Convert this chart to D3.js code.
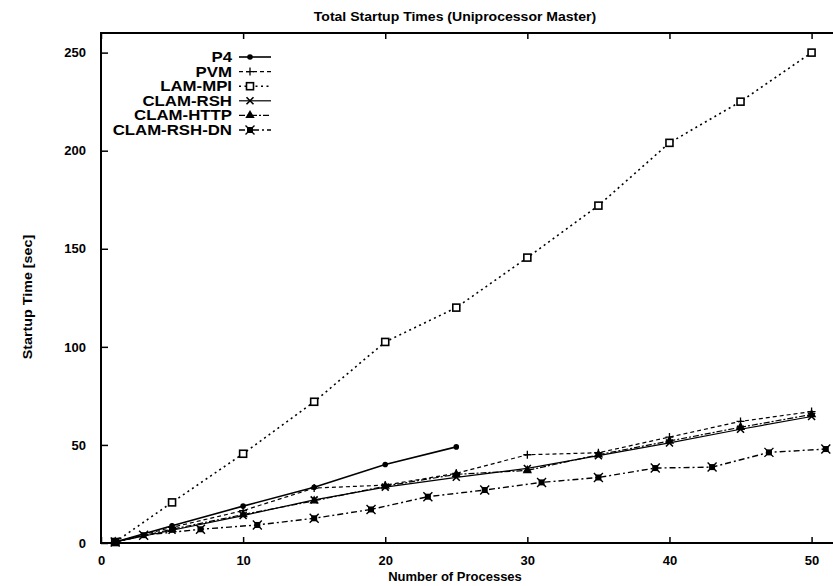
<!DOCTYPE html>
<html>
<head>
<meta charset="utf-8">
<script src="https://cdn.jsdelivr.net/npm/d3@7"></script>
<style>
  body { margin: 0; background: #fff; }
  text { font-family: "Liberation Sans", Arial, sans-serif; fill: #000; }
</style>
</head>
<body>
<div id="chart"></div>
<script>
// data
var procs = [1, 5, 10, 15, 20, 25, 30, 35, 40, 45, 50];
var p4Procs = [1, 5, 10, 15, 20, 25];
var dnProcs = [1, 3, 7, 11, 15, 19, 23, 27, 31, 35, 39, 43, 47, 51];

var p4 = [0.5, 8.8, 18.8, 28.4, 40, 49];
var pvm = [0.5, 8, 16.5, 28, 29.5, 35.5, 45, 46, 54, 62, 67];
var lamMpi = [0.5, 20.7, 45.5, 72, 102.5, 120, 145.5, 172, 204, 225, 250];
var clamRsh = [0.5, 6.5, 14, 22, 28.5, 33.5, 38, 44.5, 51, 58, 64.5];
var clamHttp = [0.5, 7, 14.5, 21.5, 29, 35, 37, 45, 52, 59, 65.5];
var clamRshDn = [0.5, 4, 7, 9.2, 12.6, 17.1, 23.6, 27, 30.9, 33.4, 38.2, 38.7, 46.2, 47.9];

var xTicks = [0, 10, 20, 30, 40, 50];
var yTicks = [0, 50, 100, 150, 200, 250];

var series = [
  {name: 'P4', xs: p4Procs, ys: p4, dash: null, width: 1.6, marker: 'dot'},
  {name: 'PVM', xs: procs, ys: pvm, dash: '4,3', width: 1.2, marker: 'plus'},
  {name: 'LAM-MPI', xs: procs, ys: lamMpi, dash: '2,3.5', width: 1.6, marker: 'square'},
  {name: 'CLAM-RSH', xs: procs, ys: clamRsh, dash: null, width: 1.2, marker: 'cross'},
  {name: 'CLAM-HTTP', xs: procs, ys: clamHttp, dash: '6,2,2,2', width: 1.2, marker: 'tri'},
  {name: 'CLAM-RSH-DN', xs: dnProcs, ys: clamRshDn, dash: '6,3,2,3', width: 1.4, marker: 'star'}
];

var margin = {top: 33, left: 101};
var width = 739, height = 510;

var svg = d3.select('#chart')
    .append('svg')
    .attr('width', 833)
    .attr('height', 586)

var graph = svg.append('g')
    .attr('transform', 'translate(' + margin.left + ', ' + margin.top + ')')

var xS = d3.scaleLinear().domain([0, 52]).range([0, width])
var yS = d3.scaleLinear().domain([0, 260]).range([height, 0])

// inward ticks on all sides, gnuplot style
graph.append('g')
    .attr('transform', 'translate(0, ' + height + ')')
    .call(d3.axisBottom(xS).tickValues(xTicks).tickSize(-6).tickPadding(13))
    .call(function (g) { g.select('.domain').remove() })
graph.append('g')
    .call(d3.axisTop(xS).tickValues(xTicks).tickSize(-6).tickFormat(''))
    .call(function (g) { g.select('.domain').remove() })
graph.append('g')
    .call(d3.axisLeft(yS).tickValues(yTicks).tickSize(-7).tickPadding(15))
    .call(function (g) { g.select('.domain').remove() })
graph.append('g')
    .attr('transform', 'translate(' + width + ', 0)')
    .call(d3.axisRight(yS).tickValues(yTicks).tickSize(-7).tickFormat(''))
    .call(function (g) { g.select('.domain').remove() })

graph.selectAll('.tick line').attr('stroke', '#000').attr('stroke-width', 1.5)
graph.selectAll('.tick text').style('font-size', '13px').style('font-weight', 'bold')

graph.append('rect')
    .attr('width', width).attr('height', height)
    .attr('fill', 'none').attr('stroke', '#000').attr('stroke-width', 2)

function drawMarker(sel, type) {
  if (type === 'dot') {
    sel.append('circle').attr('r', 2.8).attr('fill', '#000')
  } else if (type === 'plus') {
    sel.append('path').attr('d', 'M-4,0H4M0,-4V4').attr('stroke', '#000').attr('stroke-width', 1.3)
  } else if (type === 'square') {
    sel.append('rect').attr('x', -3.5).attr('y', -3.5).attr('width', 7).attr('height', 7)
        .attr('fill', '#fff').attr('stroke', '#000').attr('stroke-width', 1.6)
  } else if (type === 'cross') {
    sel.append('path').attr('d', 'M-3.5,-3.5L3.5,3.5M-3.5,3.5L3.5,-3.5').attr('stroke', '#000').attr('stroke-width', 1.6)
  } else if (type === 'tri') {
    sel.append('path').attr('d', d3.symbol().type(d3.symbolTriangle).size(38)).attr('fill', '#000')
  } else {
    sel.append('rect').attr('x', -3).attr('y', -3).attr('width', 6).attr('height', 6).attr('fill', '#000')
    sel.append('path').attr('d', 'M-4.5,-4.5L4.5,4.5M-4.5,4.5L4.5,-4.5').attr('stroke', '#000').attr('stroke-width', 1.4)
  }
}

var line = d3.line()
    .x(function (d) { return xS(d[0]) })
    .y(function (d) { return yS(d[1]) })

series.forEach(function (s) {
  var pts = s.xs.map(function (x, i) { return [x, s.ys[i]] })
  graph.append('path')
      .attr('d', line(pts))
      .attr('fill', 'none')
      .attr('stroke', '#000')
      .attr('stroke-width', s.width)
      .attr('stroke-dasharray', s.dash)
  graph.selectAll(null)
      .data(pts)
      .enter()
      .append('g')
      .attr('transform', function (d) { return 'translate(' + xS(d[0]) + ',' + yS(d[1]) + ')' })
      .each(function () { drawMarker(d3.select(this), s.marker) })
})

// legend, text is wide in the original so stretch it a bit
var legend = svg.append('g')
series.forEach(function (s, i) {
  var y = 57 + i * 14.6
  legend.append('text')
      .attr('transform', 'translate(232,' + (y + 5) + ') scale(1.2,1)')
      .attr('text-anchor', 'end')
      .style('font-size', '14px').style('font-weight', 'bold')
      .text(s.name)
  legend.append('line')
      .attr('x1', 239).attr('x2', 271).attr('y1', y).attr('y2', y)
      .attr('stroke', '#000').attr('stroke-width', s.width)
      .attr('stroke-dasharray', s.dash)
  drawMarker(legend.append('g').attr('transform', 'translate(250,' + y + ')'), s.marker)
})

svg.append('text')
    .attr('transform', 'translate(455,21) scale(1.08,1)')
    .attr('text-anchor', 'middle')
    .style('font-size', '13px').style('font-weight', 'bold')
    .text('Total Startup Times (Uniprocessor Master)')

svg.append('text')
    .attr('x', 455).attr('y', 581)
    .attr('text-anchor', 'middle')
    .style('font-size', '13px').style('font-weight', 'bold')
    .text('Number of Processes')

svg.append('text')
    .attr('transform', 'translate(32, 297) rotate(-90) scale(1.1,1)')
    .attr('text-anchor', 'middle')
    .style('font-size', '13px').style('font-weight', 'bold')
    .text('Startup Time [sec]')
</script>
</body>
</html>
